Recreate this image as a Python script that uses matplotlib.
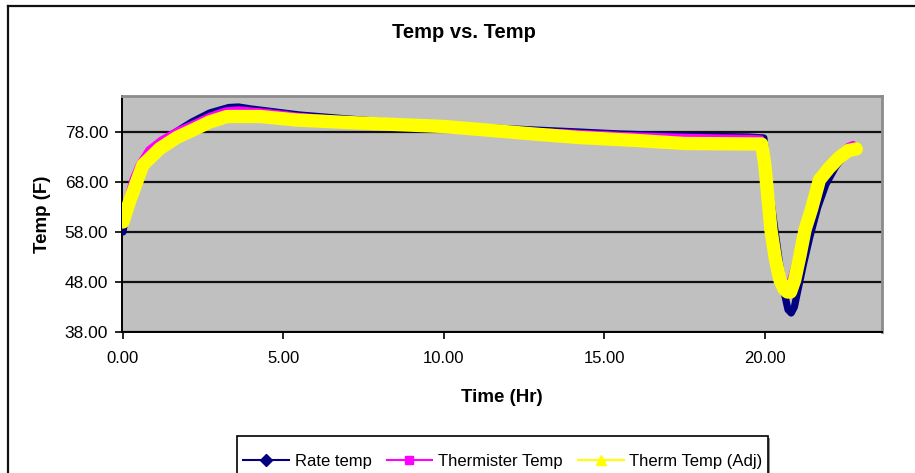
import matplotlib
matplotlib.use("Agg")
import matplotlib.pyplot as plt
from matplotlib.lines import Line2D
from matplotlib.patches import Rectangle

plt.rcParams['font.family'] = ['Liberation Sans', 'DejaVu Sans']

# Rate temp (navy diamonds)
rate_t = [0.0, 0.1, 0.3, 0.5, 0.8, 1.2, 1.7, 2.15, 2.7, 3.3, 3.6, 4.0, 5.0, 5.5,
          7.0, 8.5, 10.0, 11.5, 12.8, 14.2, 15.5, 17.0, 18.5, 19.5, 19.97,
          20.05, 20.15, 20.3, 20.45, 20.6, 20.72, 20.82, 20.92, 21.0, 21.2,
          21.4, 21.65, 21.9, 22.2, 22.5, 22.85]
rate_v = [58.0, 62.0, 67.0, 70.5, 73.8, 76.2, 78.2, 80.0, 81.8, 82.9, 83.0, 82.6, 81.8, 81.4,
          80.6, 79.9, 79.3, 78.8, 78.4, 78.0, 77.6, 77.3, 77.1, 77.0, 76.8,
          72.0, 66.0, 59.0, 52.0, 46.0, 42.5, 41.8, 43.0, 45.5, 51.5,
          57.0, 63.0, 67.5, 71.0, 73.5, 74.8]

# Thermister Temp (magenta squares)
therm_t = [0.0, 0.15, 0.3, 0.5, 0.8, 1.2, 1.7, 2.2, 2.7, 3.2, 3.6, 4.5, 5.5,
           7.0, 8.5, 10.0, 11.5, 12.8, 14.2, 15.5, 17.0, 18.5, 19.5, 19.88,
           19.92, 20.0, 20.1, 20.3, 20.5, 20.65, 20.8, 20.95, 21.15, 21.4,
           21.65, 22.0, 22.3, 22.6, 22.75]
therm_v = [61.5, 65.0, 68.5, 71.5, 74.5, 76.5, 78.3, 79.7, 81.2, 82.3, 82.5, 82.0, 81.2,
           80.4, 79.7, 79.1, 78.6, 78.2, 77.8, 77.4, 77.1, 76.9, 76.8, 76.7,
           73.0, 67.5, 62.0, 54.5, 49.0, 47.2, 48.5, 52.0, 57.5, 63.0,
           67.5, 71.0, 73.5, 75.2, 75.6]

# Therm Temp (Adj) (yellow triangles)
adj_t = [0.0, 0.22, 0.62, 1.15, 1.68, 2.18, 2.7, 3.24, 4.27, 5.4, 7.0, 8.5, 10.0,
         11.5, 12.8, 14.2, 16.0, 17.5, 19.9, 20.0, 20.19, 20.33, 20.47, 20.6,
         20.7, 20.8, 20.93, 21.1, 21.25, 21.45, 21.7, 22.0, 22.3, 22.6, 22.85]
adj_v = [60.0, 64.4, 71.4, 74.7, 76.9, 78.4, 80.0, 81.1, 81.1, 80.4, 79.9, 79.5, 79.1,
         78.3, 77.6, 76.9, 76.3, 75.7, 75.6, 71.4, 58.4, 52.5, 48.4, 46.6,
         46.0, 46.0, 48.4, 53.5, 58.4, 62.5, 68.4, 70.8, 72.8, 74.3, 74.6]

series_labels = ["Rate temp", "Thermister Temp", "Therm Temp (Adj)"]
series_colors = ["#000080", "#FF00FF", "#FFFF00"]

y_ticks = [38, 48, 58, 68, 78]
x_ticks = [0, 5, 10, 15, 20]

W, H = 915, 473
fig = plt.figure(figsize=(W / 100, H / 100), dpi=100)
fig.patch.set_facecolor("white")

ax = fig.add_axes([122 / W, 1 - 332 / H, (882 - 122) / W, (332 - 96) / H])
ax.set_facecolor("#C0C0C0")

ax.plot(rate_t, rate_v, color=series_colors[0], lw=5.2,
        solid_joinstyle="round", solid_capstyle="round", zorder=3)
ax.plot(therm_t, therm_v, color=series_colors[1], lw=4.6,
        solid_joinstyle="round", solid_capstyle="round", zorder=4)
ax.plot(adj_t, adj_v, color=series_colors[2], lw=9.6,
        solid_joinstyle="round", solid_capstyle="round", zorder=5)

ax.set_xlim(-0.03, 23.65)
ax.set_ylim(38, 85.2)
ax.set_yticks(y_ticks)
ax.set_xticks(x_ticks)
ax.set_yticklabels([f"{v:.2f}" for v in y_ticks], fontsize=12.5)
ax.set_xticklabels([f"{v:.2f}" for v in x_ticks], fontsize=12)
ax.tick_params(axis="y", direction="out", length=5, width=1.2, pad=5)
ax.tick_params(axis="x", direction="out", length=5, width=1.2, pad=9)

ax.yaxis.grid(True, color="#111111", lw=1.6, zorder=1)
ax.set_axisbelow(True)

for side in ("left", "bottom"):
    ax.spines[side].set_color("black")
    ax.spines[side].set_linewidth(1.4)
for side in ("top", "right"):
    ax.spines[side].set_color("#8C8C8C")
    ax.spines[side].set_linewidth(2.0)

ax.set_xlabel("Time (Hr)", fontsize=13.5, fontweight="bold", labelpad=16)
ax.set_ylabel("Temp (F)", fontsize=13.5, fontweight="bold", labelpad=10)

fig.text(464 / W, 1 - 32 / H, "Temp vs. Temp", ha="center", va="center",
         fontsize=14.5, fontweight="bold")

# chart-area frame (top and left edges)
fig.add_artist(Line2D([8 / W, 1.0], [1 - 6 / H, 1 - 6 / H], color="#111111",
                      lw=1.6, transform=fig.transFigure))
fig.add_artist(Line2D([8 / W, 8 / W], [1 - 6 / H, 0.0], color="#111111",
                      lw=1.6, transform=fig.transFigure))

# legend box with a soft shadow on its right edge
fig.add_artist(Rectangle((239 / W, -0.05), (768 - 237) / W, (1 - 438 / H) + 0.05,
                         transform=fig.transFigure, facecolor="#909090",
                         edgecolor="none"))
fig.add_artist(Rectangle((237 / W, -0.05), (768 - 237) / W, (1 - 436 / H) + 0.05,
                         transform=fig.transFigure, facecolor="white",
                         edgecolor="black", lw=1.2))
handles = [
    Line2D([], [], color=series_colors[0], marker="D", markersize=6, lw=1.5),
    Line2D([], [], color=series_colors[1], marker="s", markersize=6, lw=1.5),
    Line2D([], [], color=series_colors[2], marker="^", markersize=7, lw=1.5),
]
leg = fig.legend(handles, series_labels, loc="center left",
                 bbox_to_anchor=(243 / W, 1 - 461 / H), ncol=3, frameon=False,
                 fontsize=12, handlelength=2.75, handletextpad=0.35,
                 columnspacing=0.9, borderpad=0, borderaxespad=0)

fig.savefig("out.png", dpi=100)
